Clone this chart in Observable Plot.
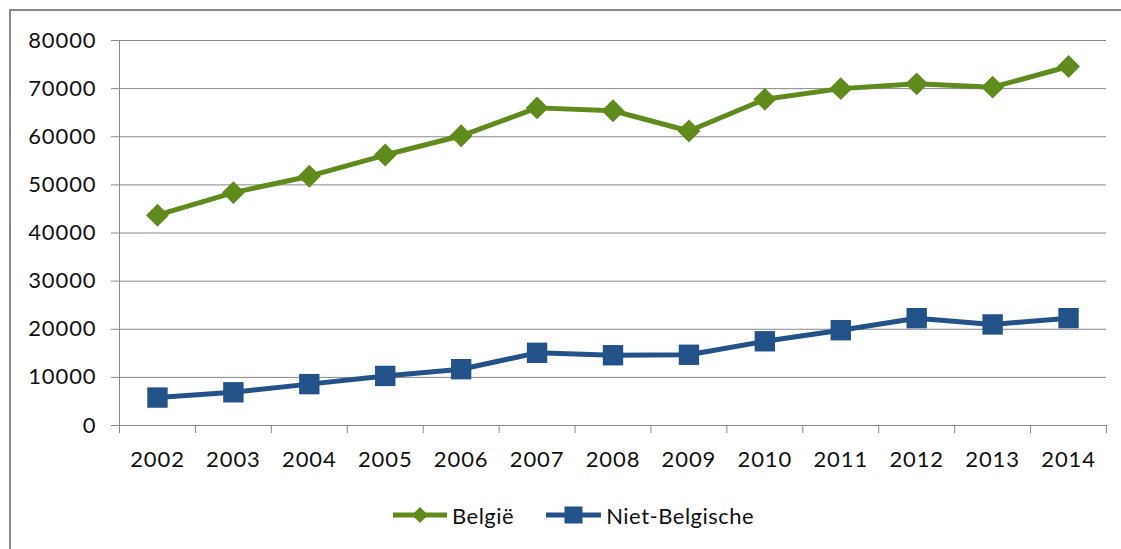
<!DOCTYPE html>
<html>
<head>
<meta charset="utf-8">
<script src="https://cdn.jsdelivr.net/npm/d3@7"></script>
<script src="https://cdn.jsdelivr.net/npm/@observablehq/plot@0.6"></script>
<style>
  html, body { margin: 0; padding: 0; background: #fff; overflow: hidden; }
  #wrap { position: relative; width: 1121px; height: 549px; overflow: hidden; }
  #frame { position: absolute; left: 9px; top: 9px; width: 1300px; height: 700px; border: 2px solid #888; box-sizing: border-box; }
  #chart { position: absolute; left: 0; top: 0; }
  #legend { position: absolute; left: 393px; top: 500px; height: 30px; display: flex; align-items: center;
            font-family: Lato, "Open Sans", sans-serif; font-size: 22px; letter-spacing: 0.5px; color: #111; }
  #legend .item { display: flex; align-items: center; }
  #legend svg { display: block; margin-right: 5px; }
</style>
</head>
<body>
<div id="wrap">
  <div id="frame"></div>
  <div id="chart"></div>
  <div id="legend"></div>
</div>
<script>
// ---- data ----
const years = [2002, 2003, 2004, 2005, 2006, 2007, 2008, 2009, 2010, 2011, 2012, 2013, 2014];
const belgie = [43700, 48400, 51800, 56200, 60200, 66000, 65400, 61200, 67800, 70000, 71000, 70300, 74600];
const nietBelgische = [5800, 6900, 8600, 10300, 11700, 15100, 14600, 14700, 17500, 19800, 22300, 21000, 22300];
const seriesNames = ["België", "Niet-Belgische"];
const yTicks = [0, 10000, 20000, 30000, 40000, 50000, 60000, 70000, 80000];

const green = "#5f8a1c";
const blue = "#235288";
const gray = "#888";

const dataB = years.map((year, i) => ({year, value: belgie[i]}));
const dataN = years.map((year, i) => ({year, value: nietBelgische[i]}));
const boundaries = [years[0] - 0.5, ...years.map(y => y + 0.5)];

const chart = Plot.plot({
  width: 1121,
  height: 549,
  marginLeft: 119,
  marginRight: 15,
  marginTop: 40,
  marginBottom: 124,
  x: {domain: [years[0] - 0.5, years[years.length - 1] + 0.5]},
  y: {domain: [0, 80000]},
  style: {fontFamily: "Lato, 'Open Sans', sans-serif", fontSize: "22px", background: "transparent", color: "#111", letterSpacing: "0.9px"},
  marks: [
    Plot.ruleY(yTicks, {stroke: gray, strokeWidth: 1}),
    Plot.ruleX([years[0] - 0.5], {stroke: gray, strokeWidth: 1}),
    Plot.axisY({ticks: yTicks, tickSize: 8, tickPadding: 15, tickFormat: d => String(d), stroke: gray, fill: "#111", label: null}),
    Plot.axisX({ticks: boundaries, tickSize: 8, tickFormat: () => "", stroke: gray, label: null}),
    Plot.axisX({ticks: years, tickSize: 0, tickPadding: 26, tickFormat: d => String(d), fill: "#111", label: null}),
    Plot.line(dataB, {x: "year", y: "value", stroke: green, strokeWidth: 5}),
    Plot.dot(dataB, {x: "year", y: "value", symbol: "diamond2", r: 10.3, fill: green, stroke: "none"}),
    Plot.line(dataN, {x: "year", y: "value", stroke: blue, strokeWidth: 5}),
    Plot.dot(dataN, {x: "year", y: "value", symbol: "square", r: 11.5, fill: blue, stroke: "none"})
  ]
});
document.getElementById("chart").appendChild(chart);

// ---- legend ----
const legend = d3.select("#legend");
const items = [
  {name: seriesNames[0], color: green, symbol: "diamond", w: 54},
  {name: seriesNames[1], color: blue, symbol: "square", w: 55}
];
items.forEach((it, i) => {
  const item = legend.append("div").attr("class", "item").style("margin-right", i === 0 ? "32px" : "0");
  const svg = item.append("svg").attr("width", it.w).attr("height", 30);
  svg.append("line").attr("x1", 0).attr("x2", it.w).attr("y1", 15).attr("y2", 15)
    .attr("stroke", it.color).attr("stroke-width", 5).attr("stroke-linecap", "round");
  if (it.symbol === "diamond") {
    const cx = it.w / 2;
    svg.append("path").attr("d", `M${cx},7L${cx + 8},15L${cx},23L${cx - 8},15Z`).attr("fill", it.color);
  } else {
    const cx = it.w / 2;
    svg.append("rect").attr("x", cx - 9).attr("y", 6.5).attr("width", 18).attr("height", 17).attr("fill", it.color);
  }
  item.append("span").text(it.name);
});
</script>
</body>
</html>
